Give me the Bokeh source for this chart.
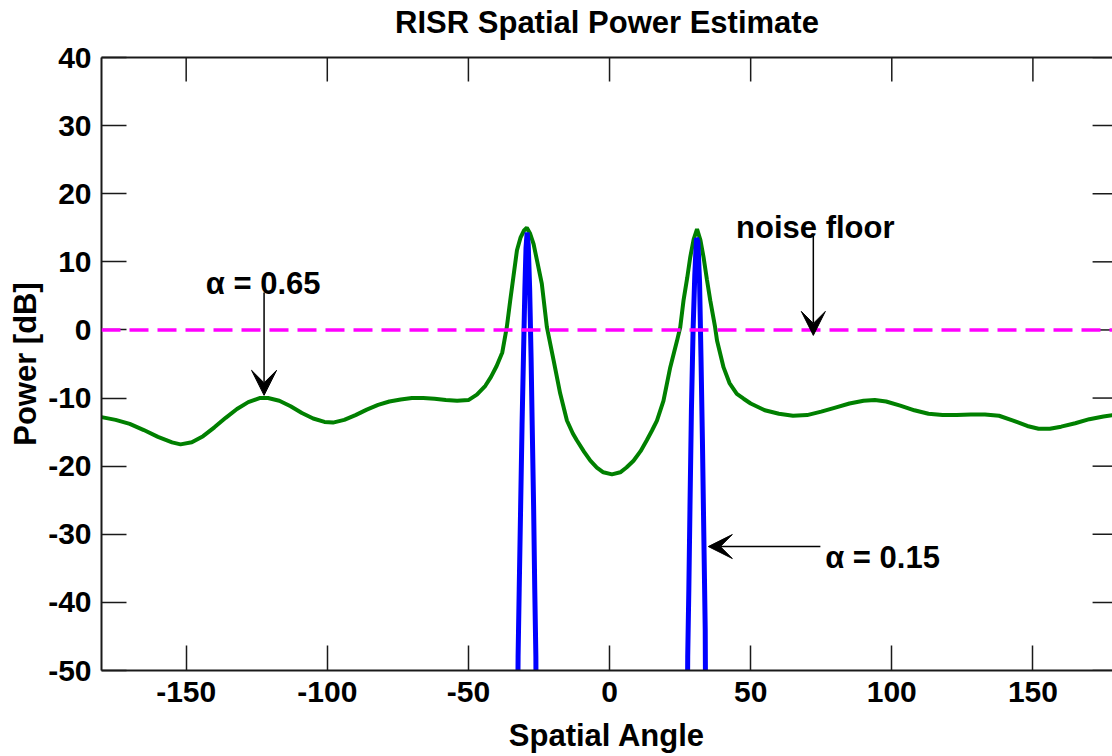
import numpy as np
from bokeh.plotting import figure
from bokeh.models import (Range1d, LinearAxis, FixedTicker, Span, Arrow, VeeHead, Label,
                          CustomJSTickFormatter)
from bokeh.embed import file_html
from bokeh.resources import INLINE

# ---------------- data ----------------
green_angle = [-180, -175, -170, -165, -160, -155, -152, -148, -144, -140, -136, -132, -128,
               -124, -121, -117, -113, -109, -105, -101, -98, -94, -90, -86, -82, -78, -74,
               -70, -66, -62, -58, -54, -50, -47, -44, -42, -40, -38, -36.4, -35.2, -34,
               -32.8, -31.5, -30.3, -29.3, -28.2, -26.9, -25.5, -24.0, -22.2, -19.8, -17.5,
               -15.1, -13, -11.6, -9, -6.8, -4.5, -2.2, 0.85, 3.8, 6, 8.5, 11, 13.2, 15,
               16.8, 19.1, 21.5, 23.9, 25.05, 26.2, 27.5, 28.6, 29.8, 31.0, 32.2, 33.3, 34.5,
               35.7, 37.4, 38.1, 40.4, 42.5, 45.1, 47.5, 50, 55, 60, 65, 70, 75, 80, 85, 90,
               94, 98, 103, 108, 113, 118, 123, 128, 133, 138, 143, 148, 152, 156, 160, 165,
               170, 175, 178.2]
green_power = [-12.8, -13.2, -13.8, -14.7, -15.7, -16.5, -16.8, -16.5, -15.6, -14.3, -12.9,
               -11.6, -10.6, -10.0, -10.0, -10.4, -11.2, -12.2, -13.0, -13.5, -13.6, -13.2,
               -12.5, -11.7, -11.0, -10.5, -10.2, -10.0, -10.0, -10.1, -10.3, -10.4, -10.3,
               -9.5, -8.2, -6.9, -5.3, -3.3, 0.4, 4.3, 8.0, 11.7, 13.6, 14.6, 15.0, 14.2,
               12.6, 9.8, 6.8, 0.4, -4.5, -9.3, -13.3, -15.2, -16.2, -17.9, -19.2, -20.2,
               -20.9, -21.2, -20.9, -20.2, -19.2, -17.8, -16.2, -14.8, -13.3, -10.4, -5.5,
               -1.6, 0.4, 4.3, 7.6, 10.7, 13.3, 14.8, 13.2, 10.7, 7.4, 4.3, 0.4, -1.6, -5.5,
               -7.8, -9.4, -10.1, -10.8, -11.8, -12.3, -12.6, -12.5, -12.0, -11.4, -10.8,
               -10.4, -10.3, -10.5, -11.1, -11.8, -12.3, -12.5, -12.5, -12.4, -12.4, -12.6,
               -13.3, -14.1, -14.5, -14.5, -14.2, -13.7, -13.1, -12.7, -12.5]

blue_angle = [-33.0, -32.4, -32.0, -31.5, -31.0, -30.5, -30.0, -29.6, -29.2, -28.8, -28.3,
              -27.8, -27.4, -26.9, -26.5, -26.1, -25.7,
              27.2, 27.7, 28.1, 28.5, 29.0, 29.6, 30.2, 30.8, 31.3, 31.9, 32.4, 32.9, 33.4,
              33.9, 34.3]
blue_power = [-80, -48, -38, -26, -14, -4, 6, 12, 14.3, 12.5, 6, -4, -14, -26, -38, -48, -80,
              -80, -48, -38, -26, -12, 0, 8, 13.5, 13.0, 7, -4, -16, -30, -44, -80]

noise_floor_db = 0
x_ticks = [-150, -100, -50, 0, 50, 100, 150]
y_ticks = [-50, -40, -30, -20, -10, 0, 10, 20, 30, 40]

title_text = "RISR Spatial Power Estimate"
x_label = "Spatial Angle"
y_label = "Power [dB]"

FONT = "Liberation Sans"
X_MIN, X_MAX = -180, 178.2      # full axis is -180..180; its right edge lies off-page
Y_MIN, Y_MAX = -50, 40

# ---------------- figure ----------------
p = figure(width=1112, height=756, title=None,
           x_range=Range1d(X_MIN, X_MAX), y_range=Range1d(Y_MIN, Y_MAX),
           output_backend="svg", toolbar_location=None,
           min_border_left=101, min_border_right=0, min_border_top=57, min_border_bottom=86)

p.outline_line_color = None
p.xgrid.visible = False
p.ygrid.visible = False
p.background_fill_color = "white"
p.border_fill_color = "white"

AX_COLOR = "#1a1a1a"
plain_fmt = CustomJSTickFormatter(code="return String(tick)")

def style_label(ax, label, label_standoff):
    ax.axis_label = label
    ax.axis_label_text_font = FONT
    ax.axis_label_text_font_size = "31px"
    ax.axis_label_text_font_style = "bold"
    ax.axis_label_text_color = "black"
    ax.axis_label_standoff = label_standoff

def style_axis(ax, ticks, standoff, label, label_standoff):
    ax.ticker = FixedTicker(ticks=ticks)
    ax.formatter = plain_fmt
    ax.major_tick_in = 25
    ax.major_tick_out = 0
    ax.minor_tick_line_color = None
    ax.major_tick_line_color = AX_COLOR
    ax.major_tick_line_width = 1.5
    ax.axis_line_color = AX_COLOR
    ax.axis_line_width = 2
    ax.major_label_text_font = FONT
    ax.major_label_text_font_style = "bold"
    ax.major_label_text_color = "black"
    ax.major_label_text_font_size = "30px"
    ax.major_label_standoff = standoff
    style_label(ax, label, label_standoff)

style_axis(p.xaxis[0], x_ticks, 11, x_label, 13)
style_axis(p.yaxis[0], y_ticks, 10, y_label, 2)

# top frame edge: axis line, with the chart title as its label
ta = LinearAxis(ticker=FixedTicker(ticks=[]))
ta.axis_line_color = AX_COLOR
ta.axis_line_width = 2
ta.major_tick_line_color = None
ta.minor_tick_line_color = None
ta.major_tick_in = 0
ta.major_tick_out = 0
ta.major_label_standoff = 0
style_label(ta, title_text, 18)
p.add_layout(ta, "above")

# inward ticks on the top edge and on the (off-page) right edge
p.ray(x=x_ticks, y=[Y_MAX] * len(x_ticks), length=24, length_units="screen",
      angle=-np.pi / 2, line_color=AX_COLOR, line_width=1.5)
p.ray(x=[180] * len(y_ticks), y=y_ticks, length=25, length_units="screen",
      angle=np.pi, line_color=AX_COLOR, line_width=1.5)

# ---------------- data marks ----------------
p.line(green_angle, green_power, line_color="#008000", line_width=4)
p.line(blue_angle, blue_power, line_color="#0000FF", line_width=5)

p.add_layout(Span(location=noise_floor_db, dimension="width", line_color="#FF00FF",
                  line_width=3.5, line_dash="19 9"))

# ---------------- annotations ----------------
def add_label(x, y, text, align, size="31px"):
    p.add_layout(Label(x=x, y=y, text=text, text_align=align, text_baseline="alphabetic",
                       text_font=FONT, text_font_size=size, text_font_style="bold",
                       text_color="black"))

def add_arrow(x0, y0, x1, y1, size):
    p.add_layout(Arrow(end=VeeHead(size=size, fill_color="black", line_color="black"),
                       x_start=x0, y_start=y0, x_end=x1, y_end=y1,
                       line_color="black", line_width=1.5))

add_label(-122.7, 6.8, "\u03b1 = 0.65", "center")
add_arrow(-122.4, 5.5, -122.4, -9.6, 25)

add_label(72.9, 15.0, "noise floor", "center")
add_arrow(72.2, 13.9, 72.2, -0.8, 24)

add_label(76.4, -33.4, "\u03b1 = 0.15", "left")
add_arrow(74.7, -31.8, 35.0, -31.8, 24)

open("out.html", "w").write(file_html(p, INLINE))
